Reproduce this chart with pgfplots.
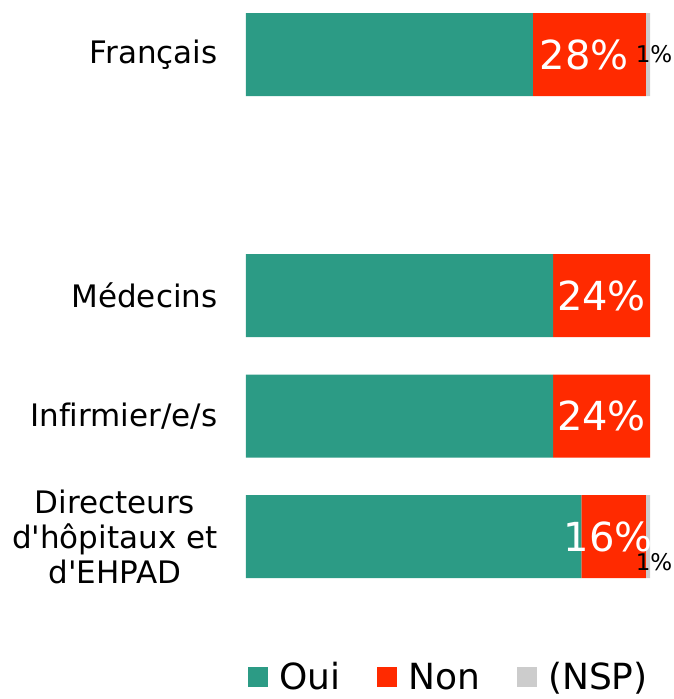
\documentclass[border=0pt]{standalone}
\usepackage{fontspec}
\setmainfont{DejaVu Sans}[Ligatures={TeXOff,NoCommon}]
\usepackage{pgfplots}
\pgfplotsset{compat=1.18}
\definecolor{cOui}{RGB}{44,155,133}
\definecolor{cNon}{RGB}{255,42,0}
\definecolor{cNSP}{RGB}{204,204,204}
\begin{document}
\begin{tikzpicture}
\useasboundingbox (0,0) rectangle (674pt,-699pt);
\pgfplotsset{
  base/.style={
    at={(246pt,-0.3pt)}, anchor=north west,
    scale only axis, width=404pt, height=602.5pt,
    xmin=0, xmax=100, ymin=-0.45, ymax=4.55,
    y dir=reverse, enlargelimits=false,
    axis line style={draw=none}, major tick length=0pt,
    xtick=\empty, clip=false,
  }
}
\begin{axis}[base,
  xbar stacked, bar width=83pt,
  ytick={0,2,3,4},
  yticklabels={Français, Médecins, Infirmier/e/s, {Directeurs\\d'hôpitaux et\\d'EHPAD}},
  yticklabel style={align=center, font=\fontsize{31}{35}\selectfont, xshift=-25pt},
  legend columns=3,
  legend style={draw=none, fill=none, at={(2pt,-660pt)}, anchor=north west,
    font=\fontsize{36}{40}\selectfont, inner sep=0pt,
    /tikz/every odd column/.append style={column sep=9pt},
    /tikz/every even column/.append style={column sep=35pt}},
  legend image code/.code={\fill[#1] (0pt,-10pt) rectangle (20pt,10pt);},
]
\addplot[fill=cOui, draw=none] coordinates {(71,0) (76,2) (76,3) (83,4)};
\addlegendentry{Oui}
\addplot[fill=cNon, draw=none] coordinates {(28,0) (24,2) (24,3) (16,4)};
\addlegendentry{Non}
\addplot[fill=cNSP, draw=none] coordinates {(1,0) (0,2) (0,3) (1,4)};
\addlegendentry{(NSP)}
\end{axis}
\begin{axis}[base, ytick=\empty]
\addplot[draw=none, mark=none, nodes near coords, point meta=explicit symbolic,
  every node near coord/.style={anchor=center, text=white, font=\fontsize{40}{40}\selectfont}]
  coordinates {(83.7,0) [28\%] (88,2) [24\%] (88,3) [24\%] (89.7,4) [16\%]};
\addplot[draw=none, mark=none, nodes near coords, point meta=explicit symbolic,
  every node near coord/.style={anchor=center, text=black, font=\fontsize{23}{23}\selectfont}]
  coordinates {(101,0) [1\%] (101,4.21) [1\%]};
\end{axis}
\end{tikzpicture}
\end{document}
